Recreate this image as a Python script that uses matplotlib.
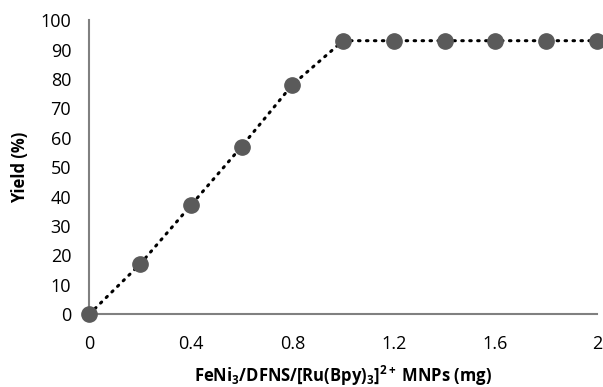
import matplotlib.pyplot as plt

amount_mg = [0, 0.2, 0.4, 0.6, 0.8, 1.0, 1.2, 1.4, 1.6, 1.8, 2.0]
yield_pct = [0, 17, 37, 57, 78, 93, 93, 93, 93, 93, 93]
x_ticks = [0, 0.4, 0.8, 1.2, 1.6, 2]
x_tick_labels = ["0", "0.4", "0.8", "1.2", "1.6", "2"]
y_ticks = list(range(0, 101, 10))

plt.rcParams["font.family"] = ["Open Sans", "DejaVu Sans"]

fig = plt.figure(figsize=(6.03, 3.87), dpi=100)
ax = fig.add_axes([0.148, 0.188, 0.842, 0.760])

ax.plot(amount_mg, yield_pct, linestyle=(0, (0.5, 2.1)), color="black",
        linewidth=2.2, dash_capstyle="round", zorder=2)
ax.plot(amount_mg, yield_pct, linestyle="none", marker="o", markersize=11,
        color="#5a5a5a", zorder=3, clip_on=False)

ax.set_xlim(0, 2)
ax.set_ylim(0, 100)
ax.set_xticks(x_ticks)
ax.set_xticklabels(x_tick_labels)
ax.set_yticks(y_ticks)
ax.tick_params(length=0, labelsize=13, colors="black")
ax.tick_params(axis="y", pad=13)
ax.tick_params(axis="x", pad=15)

for side in ["top", "right"]:
    ax.spines[side].set_visible(False)
for side in ["left", "bottom"]:
    ax.spines[side].set_color("#808080")
    ax.spines[side].set_linewidth(1.5)

ax.set_xlabel(r"FeNi$_\mathregular{3}$/DFNS/[Ru(Bpy)$_\mathregular{3}$]$^\mathregular{2+}$ MNPs (mg)",
              fontsize=12, fontweight="bold", labelpad=8)
ax.set_ylabel("Yield (%)", fontsize=12, fontweight="bold", labelpad=8)

fig.savefig("out.png", dpi=100)
